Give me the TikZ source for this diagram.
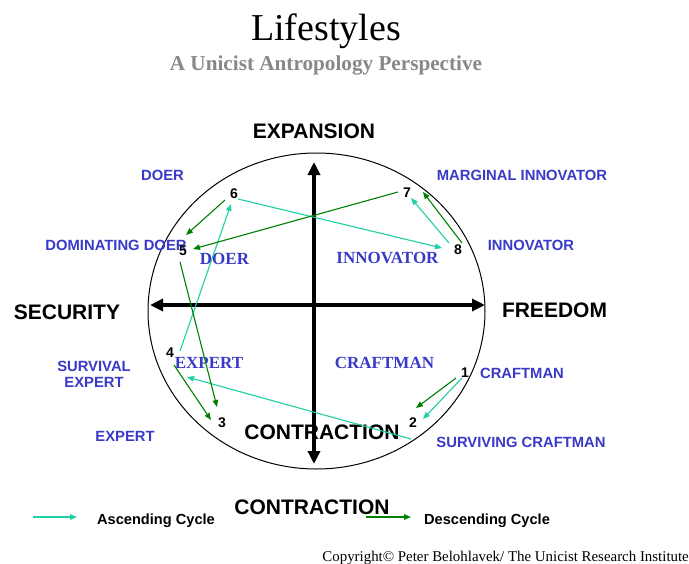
\documentclass[tikz,border=0pt]{standalone}
\usepackage{fontspec}
\setmainfont{Liberation Serif}
\newfontfamily\arial{Liberation Sans}
\usetikzlibrary{arrows.meta,shapes.geometric}
\definecolor{asc}{RGB}{30,208,165}
\definecolor{desc}{RGB}{0,128,0}
\definecolor{lblue}{RGB}{58,58,200}
\definecolor{subgray}{RGB}{136,136,136}
\begin{document}
\begin{tikzpicture}[x=1pt,y=-1pt,
  big/.style={font=\arial\bfseries\fontsize{21}{25}\selectfont, inner sep=0pt, text depth=0pt},
  side/.style={font=\arial\bfseries\fontsize{14.8}{17}\selectfont, text=lblue, inner sep=0pt, text depth=0pt},
  inlbl/.style={font=\bfseries\fontsize{17}{20}\selectfont, text=lblue, inner sep=0pt, text depth=0pt},
  num/.style={font=\arial\bfseries\fontsize{14}{16}\selectfont, inner sep=0pt, text depth=0pt},
  leg/.style={font=\arial\bfseries\fontsize{14.6}{17}\selectfont, inner sep=0pt, text depth=0pt},
  ascar/.style={draw=asc, line width=1.1pt, -{Triangle[length=7pt,width=5.5pt]}},
  descar/.style={draw=desc, line width=1.1pt, -{Triangle[length=7pt,width=5.5pt]}},
  axisar/.style={line width=3.8pt, {Triangle[length=13pt,width=12pt]}-{Triangle[length=13pt,width=12pt]}}
]
\useasboundingbox (0,0) rectangle (689,563);
\fill[white] (0,0) rectangle (689,563);

% titles
\node[anchor=base, inner sep=0pt, font=\fontsize{38}{44}\selectfont] (title) at (326,40) {Lifestyles};
\node[anchor=base, inner sep=0pt, font=\bfseries\fontsize{21.2}{25}\selectfont, text=subgray] (subtitle) at (326,70) {A Unicist Antropology Perspective};

% oval and axes
\node[draw, ellipse, line width=1pt, inner sep=0pt, minimum width=337pt, minimum height=316pt] (oval) at (316.5,311) {};
\coordinate (axl) at (150,305);
\coordinate (axr) at (485,305);
\coordinate (axt) at (314,162);
\coordinate (axb) at (314,464);
\draw[axisar] (axl) -- (axr);
\draw[axisar] (axt) -- (axb);

% axis labels
\node[big] (expansion) at (314,131) {EXPANSION};
\node[big] (security) at (67,312) {SECURITY};
\node[big] (freedom) at (554.5,310) {FREEDOM};
\node[big] (contrIn) at (322,432) {CONTRACTION};
\node[big] (contrOut) at (312,507.5) {CONTRACTION};

% outer labels
\node[side] (lDoer) at (162.5,175) {DOER};
\node[side] (lMargInn) at (522,175) {MARGINAL INNOVATOR};
\node[side] (lDomDoer) at (116,245) {DOMINATING DOER};
\node[side] (lInn) at (531,245) {INNOVATOR};
\node[side, align=center] (lSurvExp) at (94,374.5) {SURVIVAL\\[-1pt]EXPERT};
\node[side] (lExp) at (125,436) {EXPERT};
\node[side] (lCraft) at (522,373) {CRAFTMAN};
\node[side] (lSurvCraft) at (521,442) {SURVIVING CRAFTMAN};

% inner labels
\node[inlbl] (iDoer) at (224.5,259) {DOER};
\node[inlbl] (iInn) at (387.5,258) {INNOVATOR};
\node[inlbl] (iExp) at (209,363) {EXPERT};
\node[inlbl] (iCraft) at (384.5,363) {CRAFTMAN};

% numbers
\node[num] (n1) at (465,373) {1};
\node[num] (n2) at (413,423) {2};
\node[num] (n3) at (222,423) {3};
\node[num] (n4) at (170,353) {4};
\node[num] (n5) at (183,251) {5};
\node[num] (n6) at (234,194) {6};
\node[num] (n7) at (407,193) {7};
\node[num] (n8) at (458,250) {8};

% connector end points
\coordinate (a1s) at (462,378); \coordinate (a1e) at (423,419);
\coordinate (a2s) at (411,439); \coordinate (a2e) at (187,377);
\coordinate (a3s) at (180,351); \coordinate (a3e) at (231,204);
\coordinate (a4s) at (238,199); \coordinate (a4e) at (442,248);
\coordinate (a5s) at (449,243); \coordinate (a5e) at (411,198);
\coordinate (d1s) at (456,378); \coordinate (d1e) at (416,408);
\coordinate (d2s) at (174,365); \coordinate (d2e) at (211,420);
\coordinate (d3s) at (180,262); \coordinate (d3e) at (217,407);
\coordinate (d4s) at (225,200); \coordinate (d4e) at (186,235);
\coordinate (d5s) at (398,192); \coordinate (d5e) at (193,249);
\coordinate (d6s) at (462,243); \coordinate (d6e) at (423,192);

% ascending cycle
\draw[ascar] (a1s) -- (a1e);
\draw[ascar] (a2s) -- (a2e);
\draw[ascar] (a3s) -- (a3e);
\draw[ascar] (a4s) -- (a4e);
\draw[ascar] (a5s) -- (a5e);
% descending cycle
\draw[descar] (d1s) -- (d1e);
\draw[descar] (d2s) -- (d2e);
\draw[descar] (d3s) -- (d3e);
\draw[descar] (d4s) -- (d4e);
\draw[descar] (d5s) -- (d5e);
\draw[descar] (d6s) -- (d6e);

% legend
\coordinate (la1) at (33,517); \coordinate (la2) at (77,517);
\coordinate (ld1) at (366,517); \coordinate (ld2) at (411,517);
\draw[ascar, line width=1.4pt] (la1) -- (la2);
\draw[descar, line width=1.4pt] (ld1) -- (ld2);
\node[leg] (legAsc) at (156,519) {Ascending Cycle};
\node[leg] (legDesc) at (487,519) {Descending Cycle};

% copyright
\node[anchor=base east, inner sep=0pt, font=\fontsize{14.9}{17}\selectfont] (copy) at (689,561) {Copyright© Peter Belohlavek/ The Unicist Research Institute};
\end{tikzpicture}
\end{document}
